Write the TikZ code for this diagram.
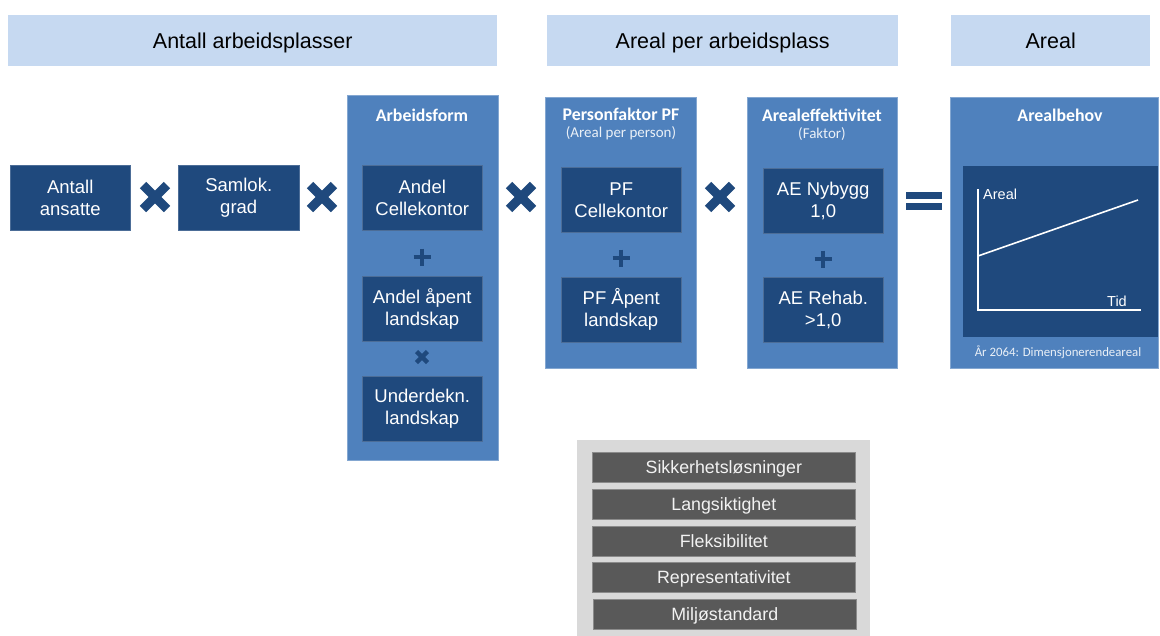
\documentclass[tikz,border=0pt]{standalone}
\usepackage{fontspec}
\setmainfont{Liberation Sans}
\newfontfamily\calib{Carlito}
\definecolor{hdr}{HTML}{C6D9F1}
\definecolor{pnl}{HTML}{4F81BD}
\definecolor{dkb}{HTML}{1F497D}
\definecolor{gbg}{HTML}{D9D9D9}
\definecolor{gbar}{HTML}{595959}
\definecolor{gtxt}{HTML}{F2F2F2}
\tikzset{
  hdrbox/.style={fill=hdr, draw=none, anchor=north west, inner sep=0pt, font=\fontsize{21.5}{24}\selectfont, text=black, text height=15.4pt, text depth=0pt},
  panel/.style={fill=pnl, draw=pnl!70!white, line width=0.6pt, anchor=north west, inner sep=0pt},
  dbox/.style={fill=dkb, draw=dkb!80!white, line width=0.5pt, anchor=north west, inner sep=0pt, minimum width=120pt, minimum height=65pt, align=center, text=white, font=\fontsize{18.5}{22}\selectfont},
  ptitle/.style={text=white, font=\calib\bfseries\fontsize{17.8}{20}\selectfont},
  psub/.style={text=white!88!pnl, font=\calib\fontsize{15}{17}\selectfont},
  gbarbox/.style={fill=gbar, draw=gbar!70!white, line width=0.6pt, anchor=north west, inner sep=0pt, minimum width=263pt, minimum height=30pt, text=gtxt, font=\fontsize{17.8}{20}\selectfont, text height=12.8pt, text depth=0pt},
  opline/.style={draw=dkb, line width=#1},
}
\newcommand{\timesop}[3]{% center name, half size, width
  \draw[opline=#3] ([shift={(-#2,-#2)}]#1) -- ([shift={(#2,#2)}]#1);
  \draw[opline=#3] ([shift={(-#2,#2)}]#1) -- ([shift={(#2,-#2)}]#1);}
\newcommand{\plusop}[3]{%
  \draw[opline=#3] ([shift={(-#2,0)}]#1) -- ([shift={(#2,0)}]#1);
  \draw[opline=#3] ([shift={(0,-#2)}]#1) -- ([shift={(0,#2)}]#1);}
\begin{document}
\begin{tikzpicture}[x=1pt,y=-1pt]
\useasboundingbox[fill=white] (0,0) rectangle (1160,635);
% headers
\node[hdrbox, minimum width=489pt, minimum height=51pt] (h1) at (8,15) {Antall arbeidsplasser};
\node[hdrbox, minimum width=351pt, minimum height=51pt] (h2) at (547,15) {Areal per arbeidsplass};
\node[hdrbox, minimum width=199pt, minimum height=51pt] (h3) at (951,15) {Areal};
% left boxes
\node[dbox, minimum width=120pt] (ans) at (10,165) {Antall\\ansatte};
\node[dbox, minimum width=121pt] (sam) at (178,165) {Samlok.\\grad};
% panels
\node[panel, minimum width=151pt, minimum height=365pt] (pA) at (347,95) {};
\node[panel, minimum width=151pt, minimum height=271pt] (pP) at (545,97) {};
\node[panel, minimum width=150pt, minimum height=271pt] (pE) at (747,97) {};
\node[panel, minimum width=208pt, minimum height=271pt] (pB) at (950,97) {};
% panel titles
\node[ptitle] (tA) at (422,115) {Arbeidsform};
\node[ptitle] (tP) at (621,114) {Personfaktor PF};
\node[psub] (sP) at (621,133) {(Areal per person)};
\node[ptitle] (tE) at (822,115) {Arealeffektivitet};
\node[psub] (sE) at (822,134) {(Faktor)};
\node[ptitle] (tB) at (1060,115) {Arealbehov};
% Arbeidsform boxes
\node[dbox] (ac) at (362,165) {Andel\\Cellekontor};
\node[dbox] (aa) at (362,276) {Andel åpent\\landskap};
\node[dbox] (ul) at (362,376) {Underdekn.\\landskap};
% PF boxes
\node[dbox] (pc) at (561,167) {PF\\Cellekontor};
\node[dbox] (pa) at (561,277) {PF Åpent\\landskap};
% AE boxes
\node[dbox] (an) at (763,168) {AE Nybygg\\1,0};
\node[dbox] (ar) at (763,277) {AE Rehab.\\>1,0};
% Arealbehov chart
\node[fill=dkb, anchor=north west, inner sep=0pt, minimum width=195pt, minimum height=171pt] (chart) at (963,166) {};
\coordinate (ytop) at (978,189);
\coordinate (orig) at (978,310);
\coordinate (xend) at (1141,310);
\coordinate (ls) at (978,256);
\coordinate (le) at (1138,200);
\draw[white, line width=1.6pt] (ytop) -- (orig) -- (xend);
\draw[white, line width=1.6pt] (ls) -- (le);
\node[text=white, anchor=west, inner sep=0pt, font=\fontsize{14.5}{16}\selectfont] (lA) at (983,194) {Areal};
\node[text=white, inner sep=0pt, font=\fontsize{14.5}{16}\selectfont] (lT) at (1117,301) {Tid};
\node[text=white!88!pnl, inner sep=0pt, font=\calib\fontsize{12.8}{14}\selectfont] (cap) at (1058,352) {År 2064: Dimensjonerendeareal};
% operators
\coordinate (o1) at (155,197);
\coordinate (o2) at (322,197);
\coordinate (o3) at (521,197);
\coordinate (o4) at (720,197);
\coordinate (o5) at (422,357);
\coordinate (p1) at (422,257);
\coordinate (p2) at (621,258);
\coordinate (p3) at (823,259);
\timesop{o1}{12}{9pt}
\timesop{o2}{12}{9pt}
\timesop{o3}{12}{9pt}
\timesop{o4}{12}{9pt}
\timesop{o5}{5.5}{4.5pt}
\plusop{p1}{8.5}{4.5pt}
\plusop{p2}{8.5}{4.5pt}
\plusop{p3}{8.5}{4.5pt}
\node[fill=dkb, anchor=north west, inner sep=0pt, minimum width=36pt, minimum height=7pt] (eq1) at (906,192) {};
\node[fill=dkb, anchor=north west, inner sep=0pt, minimum width=36pt, minimum height=7pt] (eq2) at (906,203) {};
% grey box
\node[fill=gbg, anchor=north west, inner sep=0pt, minimum width=293pt, minimum height=196pt] (gb) at (577,440) {};
\node[gbarbox] (g1) at (592,452) {Sikkerhetsløsninger};
\node[gbarbox] (g2) at (592,489) {Langsiktighet};
\node[gbarbox] (g3) at (592,526) {Fleksibilitet};
\node[gbarbox] (g4) at (592,562) {Representativitet};
\node[gbarbox] (g5) at (593,599) {Miljøstandard};
\end{tikzpicture}
\end{document}
